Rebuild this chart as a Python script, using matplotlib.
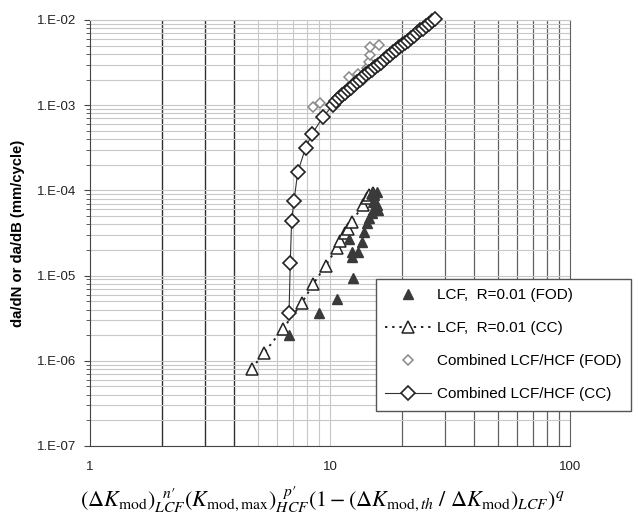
import matplotlib
matplotlib.use("Agg")
import matplotlib.pyplot as plt
import numpy as np
from matplotlib.ticker import FixedLocator, FuncFormatter, NullFormatter

plt.rcParams["font.family"] = ["Liberation Sans", "DejaVu Sans"]
plt.rcParams["mathtext.fontset"] = "stix"

# LCF, R=0.01 (FOD) - filled triangles
lcf_fod_x = [6.75, 9.03, 10.67, 12.51, 12.39, 12.31, 13.12, 13.56, 12.04, 13.86,
             14.22, 14.58, 14.92, 15.15, 15.90, 15.65, 15.06, 14.92, 15.65, 15.30]
lcf_fod_y = [2.01e-6, 3.61e-6, 5.31e-6, 9.30e-6, 1.67e-5, 1.91e-5, 1.91e-5, 2.50e-5, 2.67e-5, 3.28e-5,
             4.11e-5, 4.71e-5, 5.38e-5, 5.89e-5, 5.89e-5, 6.74e-5, 7.37e-5, 9.25e-5, 9.66e-5, 8.83e-5]

# LCF, R=0.01 (CC) - open triangles, dotted
lcf_cc_x = [4.72, 5.32, 6.35, 7.62, 8.50, 9.58, 10.67, 11.0, 11.55, 11.92,
            12.31, 13.77, 14.22, 14.58, 15.06]
lcf_cc_y = [8.08e-7, 1.245e-6, 2.36e-6, 4.73e-6, 7.90e-6, 1.307e-5, 2.09e-5, 2.55e-5, 3.14e-5, 3.49e-5,
            4.29e-5, 6.74e-5, 8.08e-5, 8.83e-5, 9.40e-5]

# Combined LCF/HCF (FOD) - small grey diamonds
comb_fod_x = [8.47, 9.08, 12.04, 13.04, 13.69, 14.22, 14.54, 14.68, 14.68, 16.05]
comb_fod_y = [9.60e-4, 1.053e-3, 2.16e-3, 2.31e-3, 1.975e-3, 2.71e-3, 3.21e-3, 3.85e-3, 4.78e-3, 5.13e-3]

# Combined LCF/HCF (CC) - open diamonds, solid
comb_cc_x = [6.75, 6.83, 6.92, 7.08, 7.34, 7.91, 8.41, 9.32,
             10.29, 10.59, 10.90, 11.22, 11.55, 11.89, 12.23, 12.59, 12.96, 13.34,
             13.72, 14.13, 14.54, 14.96, 15.40, 15.85, 16.31, 16.79, 17.28, 17.78,
             18.30, 18.84, 19.39, 19.95, 20.54, 21.13, 21.75, 22.39, 23.04, 23.71,
             24.41, 25.12, 25.85, 26.61, 27.38]
comb_cc_y = [3.64e-6, 1.41e-5, 4.41e-5, 7.57e-5, 1.64e-4, 3.16e-4, 4.55e-4, 7.21e-4,
             1.0e-3, 1.12e-3, 1.199e-3, 1.30e-3, 1.39e-3, 1.508e-3, 1.613e-3, 1.726e-3, 1.872e-3, 2.002e-3,
             2.143e-3, 2.293e-3, 2.453e-3, 2.624e-3, 2.808e-3, 2.963e-3, 3.17e-3, 3.39e-3, 3.68e-3, 3.88e-3,
             4.21e-3, 4.44e-3, 4.82e-3, 5.09e-3, 5.37e-3, 5.67e-3, 6.07e-3, 6.49e-3, 7.04e-3, 7.53e-3,
             7.84e-3, 8.39e-3, 8.97e-3, 9.73e-3, 1.04e-2]

fig = plt.figure(figsize=(6.38, 5.18), dpi=100)
ax = fig.add_axes([90 / 638, 1 - 446 / 518, 480 / 638, 426 / 518])

ax.set_xscale("log")
ax.set_yscale("log")
ax.set_xlim(1, 100)
ax.set_ylim(1e-7, 1e-2)

# gitter: horizontal all light, vertical mixed like the excel original
ax.yaxis.set_minor_locator(FixedLocator([m * 10.0 ** e for e in range(-7, -2) for m in range(2, 10)]))
ax.grid(True, which="both", axis="y", color="#c8c8c8", lw=0.8)
for v in [2, 3, 4]:
    ax.axvline(v, color="#303030", lw=1.0, zorder=0.5)
for v in [5, 6, 7, 8, 9, 10]:
    ax.axvline(v, color="#c8c8c8", lw=0.8, zorder=0.5)
for v in [20, 30, 40, 50, 60, 70, 80, 90]:
    ax.axvline(v, color="#606060", lw=0.9, zorder=0.5)

ax.plot(lcf_cc_x, lcf_cc_y, linestyle=(0, (1.2, 2.5)), color="#222222", lw=1.4,
        marker="^", ms=8, mfc="white", mec="#222222", mew=1.1, label="LCF,  R=0.01 (CC)", zorder=3)
ax.plot(lcf_fod_x, lcf_fod_y, linestyle="none", marker="^", ms=7.5, mfc="#3a3a3a", mec="#3a3a3a",
        label="LCF,  R=0.01 (FOD)", zorder=4)
ax.plot(comb_fod_x, comb_fod_y, linestyle="none", marker="D", ms=5.5, mfc="white", mec="#8a8a8a",
        mew=1.1, label="Combined LCF/HCF (FOD)", zorder=3)
ax.plot(comb_cc_x, comb_cc_y, linestyle="-", color="#333333", lw=0.8, marker="D", ms=7, mfc="white",
        mec="#222222", mew=1.2, label="Combined LCF/HCF (CC)", zorder=4, clip_on=False)

ax.xaxis.set_major_locator(FixedLocator([1, 10, 100]))
ax.xaxis.set_minor_locator(FixedLocator([]))
ax.xaxis.set_major_formatter(FuncFormatter(lambda v, p: "%d" % round(v)))
ax.yaxis.set_major_locator(FixedLocator([1e-7, 1e-6, 1e-5, 1e-4, 1e-3, 1e-2]))
ax.yaxis.set_major_formatter(FuncFormatter(lambda v, p: "1.E-%02d" % round(-np.log10(v))))
ax.yaxis.set_minor_formatter(NullFormatter())
ax.tick_params(axis="x", which="both", length=0, pad=11, labelsize=9.5, colors="#222222")
ax.tick_params(axis="y", which="major", length=4, direction="out", pad=6, labelsize=9.5,
               color="#444444", labelcolor="#222222")
ax.tick_params(axis="y", which="minor", length=3, direction="out", color="#444444")

ax.spines["left"].set_color("#444444")
ax.spines["bottom"].set_color("#444444")
ax.spines["top"].set_color("#c8c8c8")
ax.spines["right"].set_color("#606060")

ax.set_ylabel("da/dN or da/dB (mm/cycle)", fontsize=10.7, fontweight="bold")
ax.yaxis.set_label_coords(-0.135, 0.5)
prime = "\u2032"
ax.set_xlabel(r"$\left(\Delta K_{\mathrm{mod}}\right)_{LCF}^{\ \ n" + prime + "}"
              r"\left(K_{\mathrm{mod,max}}\right)_{HCF}^{\ \ p" + prime + "}"
              r"\left(1-\left(\Delta K_{\mathrm{mod},th}\ /\ \Delta K_{\mathrm{mod}}\right)_{LCF}\right)^{q}$",
              fontsize=16)
ax.xaxis.set_label_coords(0.485, -0.125)
ax.xaxis.label.set_va("center")

handles, labels = ax.get_legend_handles_labels()
order = [1, 0, 2, 3]
leg = ax.legend([handles[i] for i in order], [labels[i] for i in order],
                loc="upper left", bbox_to_anchor=(376 / 638, 1 - 279 / 518), bbox_transform=fig.transFigure,
                borderaxespad=0, fontsize=11, frameon=True, fancybox=False, framealpha=1,
                edgecolor="#555555", handlelength=3.0, handletextpad=0.4, labelspacing=1.25,
                borderpad=0.6, numpoints=1)
leg.get_frame().set_linewidth(1.0)

fig.savefig("out.png", dpi=100)
